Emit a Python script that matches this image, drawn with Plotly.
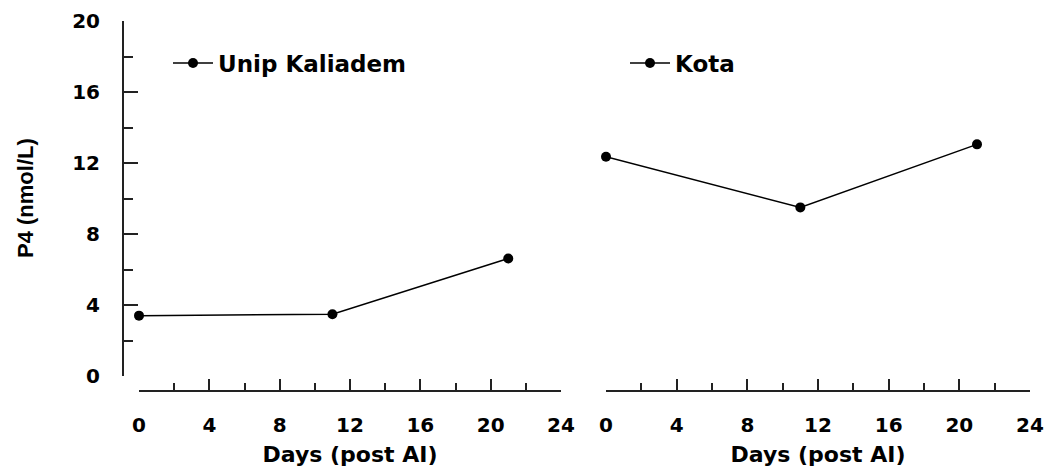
import plotly.graph_objects as go

days = [0, 11, 21]
unip_kaliadem = [3.4, 3.48, 6.62]
kota = [12.35, 9.5, 13.05]
x_ticks = [0, 4, 8, 12, 16, 20, 24]
y_ticks = [0, 4, 8, 12, 16, 20]

FONT = "DejaVu Sans"
W, H = 1048, 469

fig = go.Figure()
fig.add_trace(go.Scatter(
    x=days, y=unip_kaliadem, name="Unip Kaliadem", mode="lines+markers",
    line=dict(color="black", width=1.5), marker=dict(color="black", size=10),
    cliponaxis=False, xaxis="x", yaxis="y", legend="legend"))
fig.add_trace(go.Scatter(
    x=days, y=kota, name="Kota", mode="lines+markers",
    line=dict(color="black", width=1.5), marker=dict(color="black", size=10),
    cliponaxis=False, xaxis="x2", yaxis="y2", legend="legend2"))

def px_x(p):
    return p / W

def px_y(p):
    return (H - p) / H

ydom = [px_y(376), px_y(21)]
axis_common = dict(
    showline=True, linecolor="#222", linewidth=2, showgrid=False, zeroline=False,
    ticks="inside", tickcolor="#222", tickwidth=2,
    tickfont=dict(family=FONT, size=20, color="black", weight="bold"),
)

xaxis_common = dict(
    axis_common, range=[0, 24], tickvals=x_ticks, ticklen=11,
    minor=dict(ticks="inside", dtick=2, ticklen=7, tickcolor="#222", tickwidth=2),
    anchor="free", position=px_y(391), ticklabelstandoff=16,
    title=dict(text="Days (post AI)", standoff=10,
               font=dict(family=FONT, size=22, color="black", weight="bold")),
)

legend_font = dict(family=FONT, size=23, color="black", weight="bold")

fig.update_layout(
    width=W, height=H,
    margin=dict(l=0, r=0, t=0, b=0, autoexpand=False),
    paper_bgcolor="white", plot_bgcolor="white",
    showlegend=True,
    xaxis=dict(xaxis_common, domain=[px_x(139), px_x(561)]),
    xaxis2=dict(xaxis_common, domain=[px_x(606), px_x(1030)]),
    yaxis=dict(axis_common, range=[0, 20], tickvals=y_ticks, ticklen=14,
               minor=dict(ticks="inside", dtick=2, ticklen=9, tickcolor="#222", tickwidth=2),
               domain=ydom, anchor="free", position=px_x(123), ticklabelstandoff=18),
    yaxis2=dict(range=[0, 20], domain=ydom, visible=False, anchor="x2"),
    legend=dict(x=px_x(168), y=px_y(63), xanchor="left", yanchor="middle",
                bgcolor="rgba(0,0,0,0)", itemwidth=40, font=legend_font),
    legend2=dict(x=px_x(625), y=px_y(63), xanchor="left", yanchor="middle",
                 bgcolor="rgba(0,0,0,0)", itemwidth=40, font=legend_font),
    annotations=[dict(
        text="P4 (nmol/L)", textangle=-90, x=px_x(25), y=px_y(198),
        xref="paper", yref="paper", showarrow=False, xanchor="center", yanchor="middle",
        font=dict(family="Liberation Sans", size=22, color="black", weight="bold"))],
)

fig.write_html("out.html", config={"displayModeBar": False},
               post_script="document.body.style.margin='0';")
